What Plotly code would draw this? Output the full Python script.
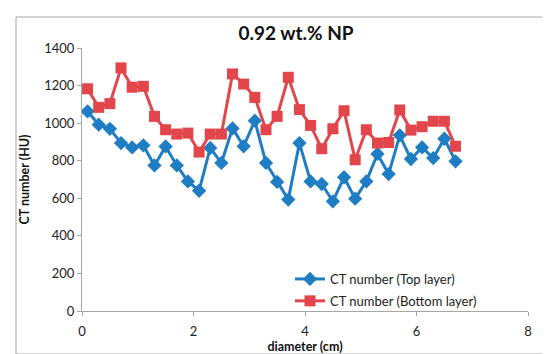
import plotly.graph_objects as go

diameter = [0.1, 0.3, 0.5, 0.7, 0.9, 1.1, 1.3, 1.5, 1.7, 1.9, 2.1, 2.3, 2.5, 2.7, 2.9, 3.1, 3.3,
            3.5, 3.7, 3.9, 4.1, 4.3, 4.5, 4.7, 4.9, 5.1, 5.3, 5.5, 5.7, 5.9, 6.1, 6.3, 6.5, 6.7]
top_layer = [1063, 992, 970, 894, 871, 882, 775, 876, 775, 690, 640, 868, 788, 972, 877, 1013, 788,
             687, 593, 894, 690, 676, 584, 712, 598, 690, 836, 729, 935, 809, 871, 814, 917, 797]
bottom_layer = [1183, 1084, 1104, 1294, 1191, 1196, 1036, 965, 942, 947, 846, 942, 942, 1262, 1208, 1137, 965,
                1036, 1244, 1072, 988, 864, 970, 1066, 805, 965, 894, 897, 1070, 963, 981, 1010, 1010, 877]
y_ticks = [0, 200, 400, 600, 800, 1000, 1200, 1400]
x_ticks = [0, 2, 4, 6, 8]

BLUE = "#1F7DC4"
RED = "#E2464B"
FONT = "Lato"

fig = go.Figure()
fig.add_trace(go.Scatter(
    x=diameter, y=top_layer, mode="lines+markers", name="CT number (Top layer)",
    legendgroup="top",
    line=dict(color=BLUE, width=3),
    marker=dict(symbol="diamond", size=11, color=BLUE)))
fig.add_trace(go.Scatter(
    x=diameter, y=bottom_layer, mode="lines+markers", name="CT number (Bottom layer)",
    legendgroup="bottom",
    line=dict(color=RED, width=3),
    marker=dict(symbol="square", size=11, color=RED)))

axis_common = dict(showgrid=False, zeroline=False, showline=True, linecolor="#A6A6A6", linewidth=1,
                   ticks="outside", tickcolor="#A6A6A6", ticklen=4,
                   tickfont=dict(family=FONT, size=13, color="#222"))

fig.update_layout(
    width=550, height=354,
    margin=dict(l=74, r=30, t=40, b=51),
    paper_bgcolor="white", plot_bgcolor="white",
    font=dict(family=FONT, color="#222"),
    title=dict(text="<b>0.92 wt.% NP</b>", x=288 / 550, xanchor="center", y=1 - 25 / 354, yanchor="middle",
               font=dict(family=FONT, size=19, color="#111")),
    xaxis=dict(range=[0, 8], tickvals=x_ticks, ticklabelstandoff=4, **axis_common,
               title=dict(text="<b>diameter (cm)</b>", font=dict(family=FONT, size=12.5, color="#111"), standoff=0)),
    yaxis=dict(range=[0, 1400], tickvals=y_ticks, **axis_common,
               title=dict(text="<b>CT number (HU)</b>", font=dict(family=FONT, size=12.5, color="#111"), standoff=11)),
    legend=dict(x=(282 - 74) / 446, y=(303 - 256) / 263, xanchor="left", yanchor="top",
                bgcolor="rgba(0,0,0,0)", font=dict(family=FONT, size=13, color="#222"),
                tracegroupgap=2),
    showlegend=True,
)

fig.add_shape(type="rect", xref="paper", yref="paper",
              x0=(8 - 74) / 446, x1=(543 - 74) / 446, y0=(303 - 346) / 263, y1=(303 - 9) / 263,
              line=dict(color="#A6A6A6", width=1), layer="below")

fig.write_html("out.html")
